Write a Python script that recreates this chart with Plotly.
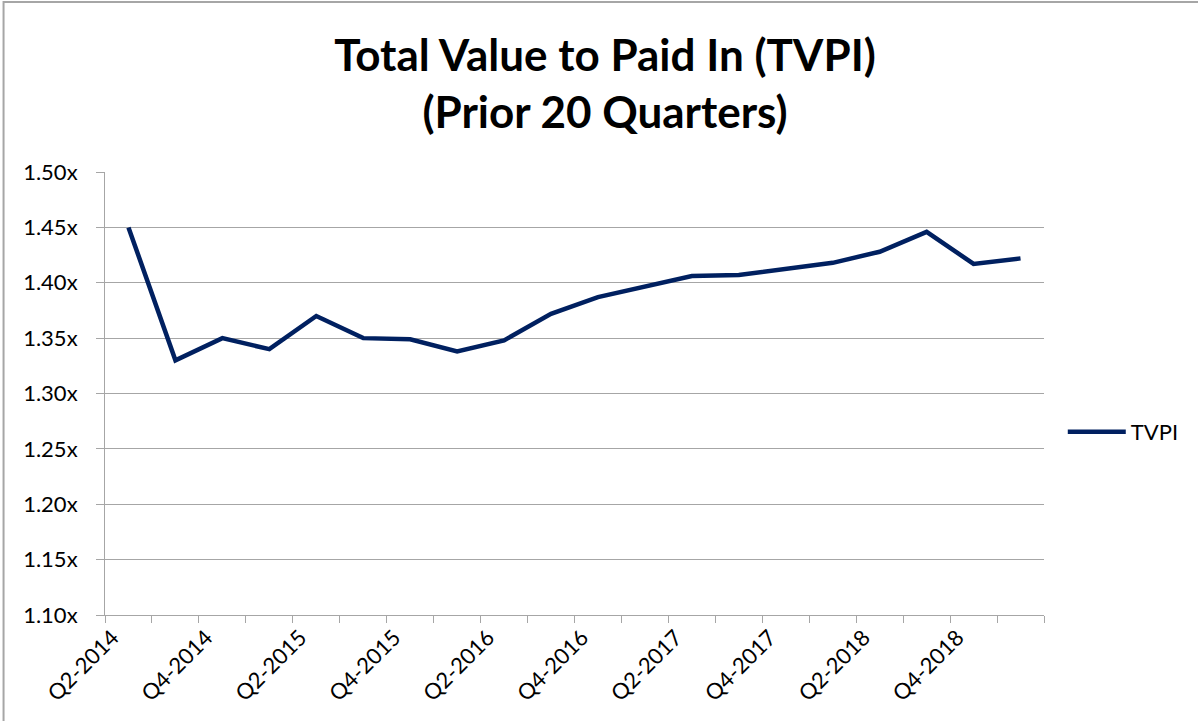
import plotly.graph_objects as go

# quarters shown on the x axis (every other one is labelled)
quarters = [
    "Q2-2014", "Q3-2014", "Q4-2014", "Q1-2015", "Q2-2015", "Q3-2015", "Q4-2015",
    "Q1-2016", "Q2-2016", "Q3-2016", "Q4-2016", "Q1-2017", "Q2-2017", "Q3-2017",
    "Q4-2017", "Q1-2018", "Q2-2018", "Q3-2018", "Q4-2018", "Q1-2019",
]
tvpi = [
    1.450, 1.330, 1.350, 1.340, 1.370, 1.350, 1.349, 1.338, 1.348, 1.372,
    1.387, 1.396, 1.406, 1.407, 1.413, 1.418, 1.428, 1.446, 1.417, 1.422,
]
y_ticks = [1.10, 1.15, 1.20, 1.25, 1.30, 1.35, 1.40, 1.45, 1.50]

tick_text = [q if i % 2 == 0 else "" for i, q in enumerate(quarters)]
y_text = ["%.2fx" % v for v in y_ticks]

FONT = "Lato, Calibri, 'Open Sans', sans-serif"
GRID = "#a6a6a6"

fig = go.Figure()
fig.add_trace(go.Scatter(x=quarters, y=tvpi, mode="lines", name="TVPI",
                         line=dict(color="#002060", width=4.5)))

fig.update_xaxes(type="category", range=[-0.5, len(quarters) - 0.5],
                 tickmode="array", tickvals=quarters, ticktext=tick_text,
                 tickson="boundaries", ticks="outside", ticklen=7, tickcolor=GRID,
                 tickangle=-45, ticklabelshift=-16, showline=True, linecolor=GRID, linewidth=1,
                 showgrid=False, tickfont=dict(size=22, color="black"))
fig.update_yaxes(range=[1.10, 1.50], tickmode="array", tickvals=y_ticks, ticktext=y_text,
                 ticks="outside", ticklen=8, tickcolor=GRID, showline=True, linecolor=GRID,
                 showgrid=True, gridcolor=GRID, gridwidth=1, zeroline=False,
                 ticklabelstandoff=14, tickfont=dict(size=22, color="black"))

# chart area border (Excel style)
fig.add_shape(type="rect", xref="paper", yref="paper",
              x0=(3 - 104.5) / 939.5, x1=1.3, y0=-0.3, y1=(615 - 2) / 443,
              line=dict(color="#a6a6a6", width=2), fillcolor="rgba(0,0,0,0)", layer="below")

fig.update_layout(
    width=1198, height=721,
    margin=dict(l=104.5, r=154, t=172, b=106),
    paper_bgcolor="white", plot_bgcolor="white",
    font=dict(family=FONT, color="black"),
    title=dict(text="<b>Total Value to Paid In (TVPI)<br>(Prior 20 Quarters)</b>",
               x=605 / 1198, xanchor="center", y=0.902, yanchor="top",
               font=dict(size=44, color="black", family=FONT)),
    showlegend=True,
    legend=dict(x=1.02, y=0.413, xanchor="left", yanchor="middle", itemwidth=58,
                font=dict(size=22, color="black"), bgcolor="rgba(0,0,0,0)"),
)

fig.write_html("out.html", config={"displayModeBar": False},
               post_script="document.body.style.margin='0';")
